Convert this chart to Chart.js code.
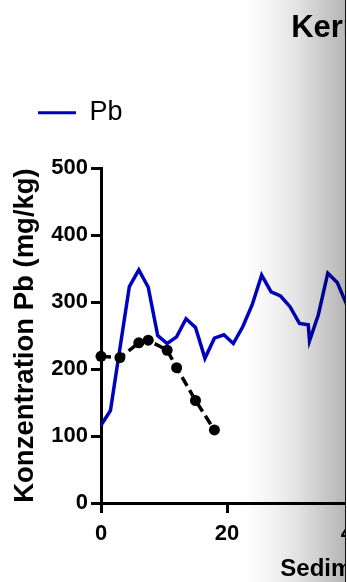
<!DOCTYPE html>
<html>
<head>
<meta charset="utf-8">
<script src="https://cdn.jsdelivr.net/npm/chart.js@4"></script>
<style>
  html, body { margin: 0; padding: 0; background: #fff; }
  #frame { position: relative; width: 347px; height: 582px; overflow: hidden; background: #fff; }
  #plot { position: absolute; left: 0; top: 0; width: 345px; height: 582px; overflow: hidden; }
  #shade {
    position: absolute; left: 0; top: 0; width: 345px; height: 582px;
    pointer-events: none; mix-blend-mode: multiply;
    background: linear-gradient(to right, #fff 0px, #fff 245px, #f3f3f3 272px, #e2e2e2 298px, #cbcbcb 322px, #b6b6b6 345px);
  }
  #edge { position: absolute; left: 345px; top: 0; width: 1px; height: 582px; background: #111; }
</style>
</head>
<body>
<div id="frame">
  <div id="plot"><canvas id="c" width="700" height="582"></canvas></div>
  <div id="shade"></div>
  <div id="edge"></div>
</div>
<script>
// Texts
const TITLE = 'Kern 1';
const X_TITLE = 'Sedimenttiefe (cm)';
const Y_TITLE = 'Konzentration Pb (mg/kg)';
const SERIES_NAME = 'Pb';

// Pb profile (continuous line)
const pbDepth  = [0, 1.5, 4.5, 6, 7.5, 9, 10.5, 12, 13.5, 15, 16.5, 18, 19.5, 21, 22.5, 24, 25.5, 27, 28.5, 30, 31.5, 32.9, 33.1, 34.5, 36, 37.5, 39];
const pbValues = [116, 138, 323, 348, 322, 250, 238, 248, 275, 262, 216, 246, 251, 238, 263, 296, 340, 315, 309, 293, 268, 266, 242, 281, 343, 329, 296];

// Second core (dashed line with markers)
const coreDepth  = [0, 3, 6, 7.5, 10.5, 12, 15, 18];
const coreValues = [219, 217, 239, 243, 228, 202, 153, 109];

// Axis ranges and ticks
const yMin = 0, yMax = 500, yStep = 100;
const xMin = 0, xMax = 91, xStep = 20;

const FONT = '"Liberation Sans", Arial, Helvetica, sans-serif';
Chart.defaults.font.family = FONT;
Chart.defaults.color = '#000';

const toPoints = (xs, ys) => xs.map((x, i) => ({ x, y: ys[i] }));

const axisCommon = {
  type: 'linear',
  grid: { display: true, drawOnChartArea: false, drawTicks: true, tickLength: 10, color: '#000', lineWidth: 3 },
  border: { display: true, color: '#000', width: 3 }
};

// Leaves some free space between the legend row and the plot area
const legendGap = {
  id: 'legendGap',
  beforeInit(chart) {
    const legend = chart.legend;
    if (!legend) return;
    const fit = legend.fit;
    legend.fit = function () {
      fit.call(this);
      this.height += 31.7;
    };
  }
};

new Chart(document.getElementById('c'), {
  type: 'line',
  data: {
    datasets: [
      {
        label: SERIES_NAME,
        data: toPoints(pbDepth, pbValues),
        borderColor: '#0000bf',
        backgroundColor: '#0000bf',
        borderWidth: 3.5,
        pointRadius: 0,
        tension: 0,
        order: 1
      },
      {
        label: 'Kern',
        data: toPoints(coreDepth, coreValues),
        borderColor: '#000',
        backgroundColor: '#000',
        borderWidth: 3.5,
        borderDash: [10, 5],
        pointRadius: 5.5,
        pointBorderWidth: 0,
        pointBackgroundColor: '#000',
        tension: 0,
        clip: false,
        order: 0
      }
    ]
  },
  plugins: [legendGap],
  options: {
    responsive: false,
    animation: false,
    devicePixelRatio: 1,
    layout: { padding: { left: 4.5, right: 25.7, top: 0, bottom: 0 } },
    plugins: {
      tooltip: { enabled: false },
      title: {
        display: true,
        text: TITLE,
        font: { size: 31, weight: 'bold' },
        color: '#000',
        padding: { top: 9.5, bottom: 19.1 }
      },
      legend: {
        display: true,
        position: 'top',
        align: 'start',
        labels: {
          usePointStyle: true,
          pointStyle: 'line',
          pointStyleWidth: 38,
          padding: 33.5,
          font: { size: 27, weight: 'normal' },
          color: '#000',
          filter: (item) => item.text === SERIES_NAME,
          generateLabels: (chart) => Chart.defaults.plugins.legend.labels.generateLabels(chart)
            .map((item) => Object.assign(item, { lineWidth: 3 }))
        }
      }
    },
    scales: {
      x: {
        ...axisCommon,
        position: 'bottom',
        min: xMin, max: xMax,
        ticks: { stepSize: xStep, padding: 8, font: { size: 22, weight: 'bold' }, color: '#000', maxRotation: 0 },
        title: { display: true, text: X_TITLE, font: { size: 24, weight: 'bold', lineHeight: 1 }, color: '#000', padding: { top: 0, bottom: 1 } },
        afterFit: (scale) => { scale.height = 79; }
      },
      y: {
        ...axisCommon,
        position: 'left',
        min: yMin, max: yMax,
        ticks: { stepSize: yStep, padding: 3, font: { size: 22, weight: 'bold' }, color: '#000' },
        title: { display: true, text: Y_TITLE, font: { size: 27.5, weight: 'bold' }, color: '#000', padding: { top: 4, bottom: 0 } },
        afterFit: (scale) => { scale.width = 96.5; }
      }
    }
  }
});
</script>
</body>
</html>
